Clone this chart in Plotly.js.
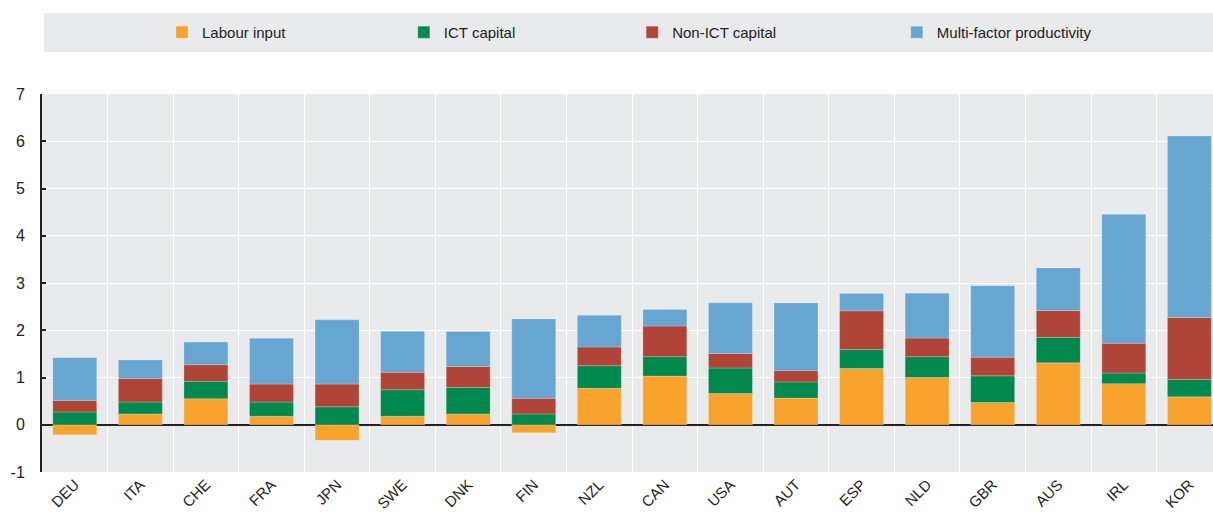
<!DOCTYPE html>
<html>
<head>
<meta charset="utf-8">
<script src="https://cdn.plot.ly/plotly-3.0.1.min.js"></script>
<style>html,body{margin:0;padding:0;background:#fff;}#chart{width:1213px;height:512px;}</style>
</head>
<body>
<div id="chart"></div>
<script>
const countries = ["DEU","ITA","CHE","FRA","JPN","SWE","DNK","FIN","NZL","CAN","USA","AUT","ESP","NLD","GBR","AUS","IRL","KOR"];
const labourInput = [-0.21,0.23,0.55,0.18,-0.33,0.18,0.23,-0.17,0.77,1.03,0.66,0.565,1.19,1.00,0.47,1.31,0.87,0.59];
const ictCapital = [0.27,0.25,0.37,0.30,0.38,0.56,0.56,0.23,0.48,0.41,0.54,0.34,0.40,0.44,0.565,0.54,0.225,0.37];
const nonIctCapital = [0.245,0.50,0.35,0.38,0.48,0.37,0.445,0.33,0.395,0.65,0.31,0.24,0.82,0.395,0.395,0.57,0.63,1.31];
const mfp = [0.905,0.39,0.48,0.97,1.36,0.87,0.74,1.68,0.67,0.35,1.07,1.43,0.37,0.95,1.51,0.90,2.73,3.84];
const seriesNames = ["Labour input","ICT capital","Non-ICT capital","Multi-factor productivity"];
const yTickValues = [-1,0,1,2,3,4,5,6,7];
const yTickLabels = ["-1","0","1","2","3","4","5","6","7"];
const colors = ["#F9A32F","#00894F","#B04437","#67A6D1"];

const FONT = "Liberation Sans, Arial, sans-serif";
const allSeries = [labourInput, ictCapital, nonIctCapital, mfp];
const legendIds = ["legend","legend2","legend3","legend4"];

const traces = allSeries.map((vals, i) => ({
  type: "bar",
  name: seriesNames[i],
  x: countries,
  y: vals,
  legend: legendIds[i],
  marker: {color: colors[i], line: {width: 0.6, color: "rgba(255,255,255,0.35)"}},
  hoverinfo: "x+y+name"
}));

const boundaries = countries.slice(1).map((c, i) => i + 0.5);
const legendX = [0.1025, 0.309, 0.504, 0.730];
const legendY = 1.163;

const layout = {
  width: 1213,
  height: 512,
  margin: {l: 42, r: 0, t: 94, b: 40, pad: 0},
  paper_bgcolor: "#ffffff",
  plot_bgcolor: "#E9EAEC",
  barmode: "relative",
  bargap: 0.33,
  font: {family: FONT, size: 15, color: "#222222"},
  xaxis: {
    type: "category",
    range: [-0.5, 17.36],
    tickson: "boundaries",
    showgrid: true,
    gridcolor: "#ffffff",
    gridwidth: 1,
    ticks: "",
    tickangle: -45,
    tickfont: {family: FONT, size: 15, color: "#222222"},
    showline: false,
    zeroline: false,
    fixedrange: true
  },
  xaxis2: {
    overlaying: "x",
    anchor: "free",
    position: 0.125,
    range: [-0.5, 17.36],
    tickvals: boundaries,
    ticks: "inside",
    ticklen: 5,
    tickwidth: 2,
    tickcolor: "#222222",
    showticklabels: false,
    showgrid: false,
    zeroline: false,
    showline: false,
    fixedrange: true
  },
  yaxis: {
    range: [-1, 7],
    tickmode: "array",
    tickvals: yTickValues,
    ticktext: yTickLabels,
    domain: [0, 1],
    showgrid: true,
    gridcolor: "#ffffff",
    gridwidth: 1,
    zeroline: true,
    zerolinecolor: "#222222",
    zerolinewidth: 2,
    showline: true,
    linecolor: "#222222",
    linewidth: 2,
    ticks: "inside",
    ticklen: 4,
    tickwidth: 2,
    tickcolor: "#222222",
    ticklabelstandoff: 12,
    tickfont: {family: FONT, size: 16, color: "#222222"},
    fixedrange: true
  },
  shapes: [{
    type: "rect", xref: "paper", yref: "paper",
    x0: 0.0017, x1: 1, y0: 1.111, y1: 1.2145,
    fillcolor: "#E9EAEC", line: {width: 0}, layer: "below"
  }],
  showlegend: true
};
legendIds.forEach((id, i) => {
  layout[id] = {
    orientation: "h",
    x: legendX[i], y: legendY,
    xanchor: "left", yanchor: "middle",
    bgcolor: "rgba(0,0,0,0)",
    borderwidth: 0,
    font: {family: FONT, size: 15, color: "#222222"}
  };
});

Plotly.newPlot("chart", traces, layout, {displayModeBar: false, staticPlot: true});
</script>
</body>
</html>
